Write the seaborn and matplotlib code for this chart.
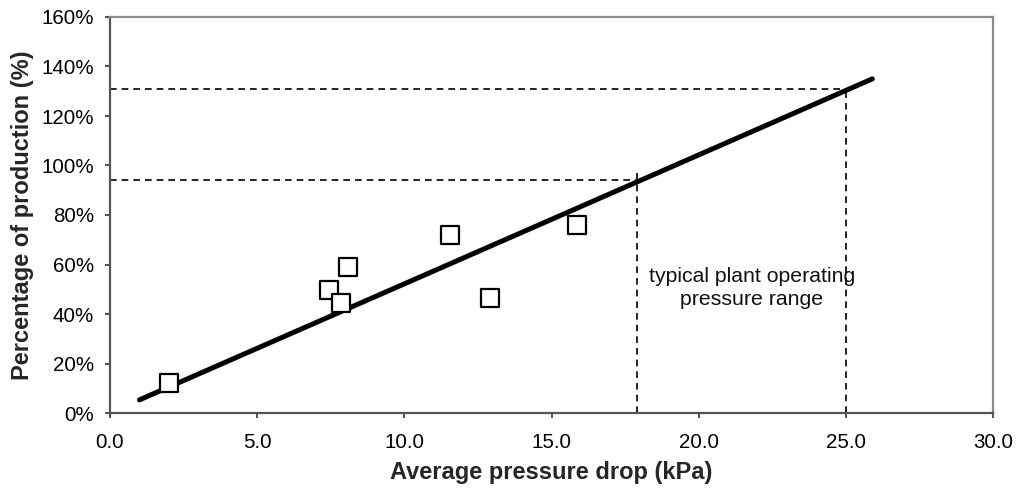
import matplotlib
matplotlib.use("Agg")
import matplotlib.pyplot as plt
import seaborn as sns
import pandas as pd
from matplotlib.ticker import FuncFormatter, MultipleLocator

# Data
pressure_drop = [2.0, 7.45, 7.85, 8.1, 11.55, 12.9, 15.85]
production_pct = [12.0, 49.7, 44.4, 58.9, 72.0, 46.6, 76.0]
fit_x = [1.0, 25.9]
fit_y = [5.3, 135.0]
range_low_x = 17.9
range_low_y = 94.0
range_low_vtop = 99.0
range_high_x = 25.0
range_high_y = 131.0
annotation = "typical plant operating\npressure range"

sns.set_theme(style="white")
plt.rcParams['font.family'] = ['Liberation Sans', 'DejaVu Sans']

fig = plt.figure(figsize=(10.16, 4.90), dpi=100)
ax = fig.add_axes([110/1016, 1 - 413/490, (993-110)/1016, (413-17)/490])

pts = pd.DataFrame({"x": pressure_drop, "y": production_pct})
fit = pd.DataFrame({"x": fit_x, "y": fit_y})

# guide dashed lines
dash = dict(color="black", lw=1.2, dashes=(4, 3))
ax.plot([0, range_high_x], [range_high_y, range_high_y], **dash)
ax.plot([range_high_x, range_high_x], [0, range_high_y], **dash)
ax.plot([0, range_low_x], [range_low_y, range_low_y], **dash)
ax.plot([range_low_x, range_low_x], [0, range_low_vtop], **dash)

sns.lineplot(data=fit, x="x", y="y", ax=ax, color="black", lw=3.6,
             solid_capstyle="round", zorder=3)
sns.scatterplot(data=pts, x="x", y="y", ax=ax, marker="s", s=150,
                facecolor="white", edgecolor="black", linewidth=1.6, zorder=4)

ax.text(21.8, 50.5, annotation, ha="center", va="center", fontsize=15.3,
        color="#111111", linespacing=1.28)

ax.set_xlim(0, 30)
ax.set_ylim(0, 160)
ax.xaxis.set_major_locator(MultipleLocator(5))
ax.yaxis.set_major_locator(MultipleLocator(20))
ax.xaxis.set_major_formatter(FuncFormatter(lambda v, p: f"{v:.1f}"))
ax.yaxis.set_major_formatter(FuncFormatter(lambda v, p: f"{v:.0f}%"))
ax.tick_params(axis="both", which="major", direction="out", length=3.6, width=1.2,
               colors="#333333", labelcolor="black", labelsize=14.8,
               bottom=True, left=True, pad=8)
ax.tick_params(axis="x", pad=10.5)

for s in ["left", "bottom"]:
    ax.spines[s].set_color("#555555")
    ax.spines[s].set_linewidth(1.6)
for s in ["top", "right"]:
    ax.spines[s].set_color("#8c8c8c")
    ax.spines[s].set_linewidth(1.6)

ax.set_xlabel("Average pressure drop (kPa)", fontsize=17, fontweight="bold", labelpad=7)
ax.set_ylabel("Percentage of production (%)", fontsize=17, fontweight="bold", labelpad=5)

fig.savefig("out.png", dpi=100)
